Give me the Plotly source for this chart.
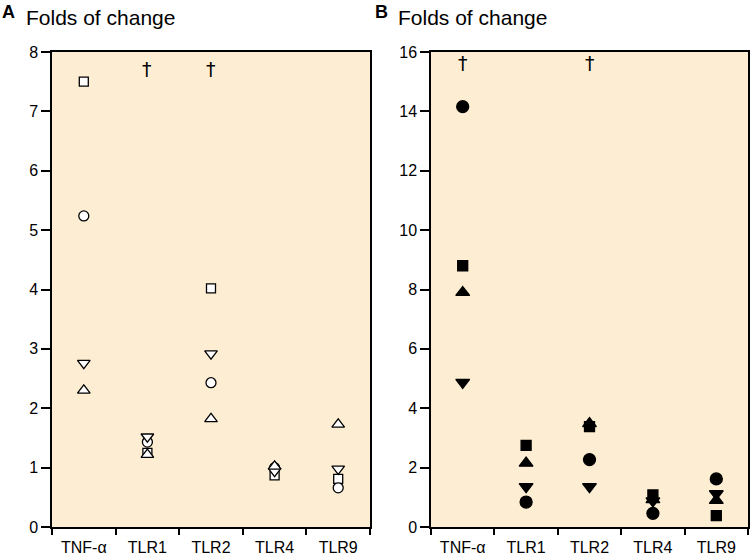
import plotly.graph_objects as go
from plotly.subplots import make_subplots

categories = ["TNF-α", "TLR1", "TLR2", "TLR4", "TLR9"]

# Panel A (open symbols)
a_square = [7.5, 1.25, 4.02, 0.87, 0.81]
a_circle = [5.24, 1.43, 2.43, 1.0, 0.66]
a_down = [2.76, 1.52, 2.92, 0.94, 0.98]
a_up = [2.3, 1.22, 1.82, 1.02, 1.73]
a_dagger_cats = ["TLR1", "TLR2"]
a_dagger_y = 7.72

# Panel B (filled symbols)
b_square = [8.8, 2.75, 3.38, 1.08, 0.38]
b_circle = [14.16, 0.84, 2.27, 0.46, 1.62]
b_down = [4.87, 1.36, 1.36, 0.88, 1.12]
b_up = [7.9, 2.15, 3.48, 0.92, 0.9]
b_dagger_cats = ["TNF-α", "TLR2"]
b_dagger_y = 15.62

fig = make_subplots(rows=1, cols=2)

def add_series(col, vals, symbol, size):
    fig.add_trace(go.Scatter(
        x=categories, y=vals, mode="markers",
        marker=dict(symbol=symbol, size=size, color="black" if col == 2 else "white",
                    line=dict(color="black", width=1.3)),
        showlegend=False, hoverinfo="y"), row=1, col=col)

add_series(1, a_square, "square", 9)
add_series(1, a_circle, "circle", 10)
add_series(1, a_down, "triangle-down", 11)
add_series(1, a_up, "triangle-up", 11)

add_series(2, b_square, "square", 10)
add_series(2, b_circle, "circle", 12)
add_series(2, b_down, "triangle-down", 12)
add_series(2, b_up, "triangle-up", 12)

font_family = "Liberation Sans, Arial, sans-serif"
for i, (cats, yv) in enumerate([(a_dagger_cats, a_dagger_y), (b_dagger_cats, b_dagger_y)]):
    for c in cats:
        fig.add_annotation(x=c, y=yv, text="†", showarrow=False,
                           xref="x" if i == 0 else "x2", yref="y" if i == 0 else "y2",
                           font=dict(size=19, color="black", family="DejaVu Sans"))

axis_common = dict(showline=True, linecolor="black", linewidth=1.5, mirror=True,
                   ticks="outside", tickwidth=1.5, tickcolor="black",
                   showgrid=False, zeroline=False, automargin=False,
                   tickfont=dict(size=16, color="black", family=font_family))

fig.update_xaxes(type="category", tickson="boundaries", range=[-0.5, 4.5],
                 ticklen=6, ticklabelstandoff=5, **axis_common)
fig.update_xaxes(domain=[52/750, 370/750], row=1, col=1)
fig.update_xaxes(domain=[431/750, 748/750], row=1, col=2)
fig.update_yaxes(range=[0, 8], dtick=1, ticklen=9, **axis_common, row=1, col=1)
fig.update_yaxes(range=[0, 16], dtick=2, ticklen=9, **axis_common, row=1, col=2)

for lx, letter, tx in [(0, "A", 24), (373, "B", 396)]:
    fig.add_annotation(x=lx/750, y=1 + (52 - 12)/475, xref="paper", yref="paper",
                       text="<b>" + letter + "</b>", showarrow=False, xanchor="left",
                       yanchor="middle", font=dict(size=18, color="black", family=font_family))
    fig.add_annotation(x=tx/750, y=1 + (52 - 17)/475, xref="paper", yref="paper",
                       text="Folds of change", showarrow=False, xanchor="left",
                       yanchor="middle", font=dict(size=21, color="black", family=font_family))

fig.update_layout(width=750, height=555, margin=dict(l=0, r=0, t=52, b=28, autoexpand=False),
                  plot_bgcolor="#FDEED3", paper_bgcolor="white",
                  font=dict(family=font_family, color="black"))

fig.write_html("out.html", config={"displayModeBar": False},
               post_script="document.body.style.margin='0px';document.body.style.overflow='hidden';")
